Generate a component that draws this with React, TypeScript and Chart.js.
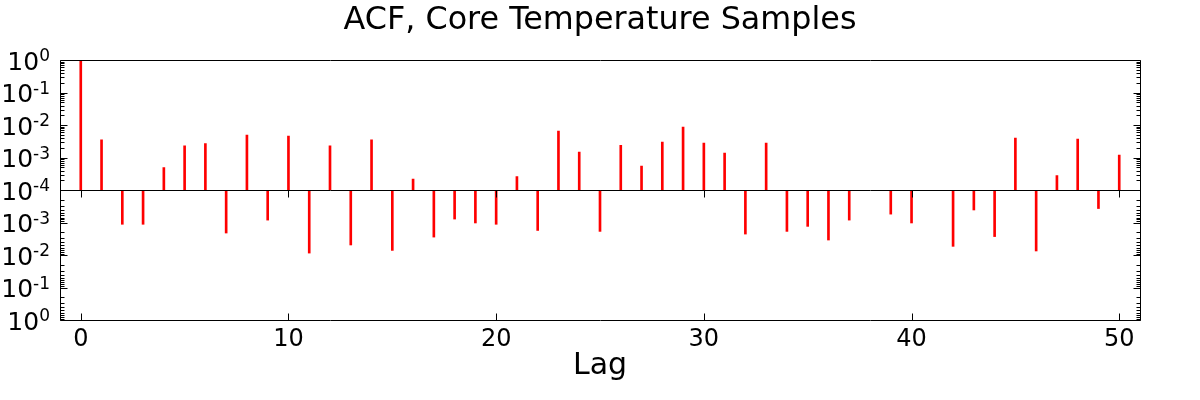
import React, { useEffect, useRef } from 'react';
import { Chart, registerables } from 'chart.js';

Chart.register(...registerables);

const TITLE = 'ACF, Core Temperature Samples';
const X_LABEL = 'Lag';

const lags = [
  0, 1, 2, 3, 4, 5, 6, 7, 8, 9,
  10, 11, 12, 13, 14, 15, 16, 17, 18, 19,
  20, 21, 22, 23, 24, 25, 26, 27, 28, 29,
  30, 31, 32, 33, 34, 35, 36, 37, 38, 39,
  40, 41, 42, 43, 44, 45, 46, 47, 48, 49,
  50,
];

const acf: (number | null)[] = [
  1, 3.5e-3, -1.13e-3, -1.13e-3, 4.9e-4, 2.3e-3, 2.7e-3, -2.1e-3, 4.9e-3, -8.4e-4,
  4.6e-3, -8.7e-3, 2.3e-3, -4.9e-3, 3.5e-3, -7.2e-3, 2.2e-4, -2.8e-3, -7.8e-4, -1.03e-3,
  -1.13e-3, 2.6e-4, -1.75e-3, 6.5e-3, 1.47e-3, -1.87e-3, 2.4e-3, 5.5e-4, 3.0e-3, 8.7e-3,
  2.8e-3, 1.37e-3, -2.26e-3, 2.8e-3, -1.87e-3, -1.31e-3, -3.45e-3, -8.4e-4, null, -5.5e-4,
  -1.03e-3, null, -5.4e-3, -4.1e-4, -2.7e-3, 4.0e-3, -7.5e-3, 2.8e-4, 3.7e-3, -3.7e-4,
  1.2e-3,
];

// y tick decades (top half: positive values, bottom half: magnitude of negative values)
const yTickValues = [1, 1e-1, 1e-2, 1e-3, 1e-4];
const yTickBase = '10';
const yPosTickExponents = ['0', '-1', '-2', '-3', '-4'];
const yNegTickExponents = ['0', '-1', '-2', '-3', ''];
const yMinorMultipliers = [2, 3, 4, 5, 6, 7, 8, 9];
const xTickValues = [0, 10, 20, 30, 40, 50];
const xTickLabels = ['0', '10', '20', '30', '40', '50'];

const FONT = 'DejaVu Sans';

const framePlugin = {
  id: 'acfFrame',
  afterDatasetsDraw(chart: any) {
    const { ctx, chartArea } = chart;
    const { left, right, top, bottom } = chartArea;
    const xs = chart.scales.x;
    const yp = chart.scales.yPos;
    const yn = chart.scales.yNeg;
    const a = (v: number) => Math.round(v) + 0.5;
    const mid = yp.bottom;
    ctx.save();
    ctx.strokeStyle = '#000';
    ctx.lineWidth = 1;
    ctx.beginPath();
    // frame
    ctx.moveTo(a(left), a(top));
    ctx.lineTo(a(right), a(top));
    ctx.lineTo(a(right), a(bottom));
    ctx.lineTo(a(left), a(bottom));
    ctx.closePath();
    // shared middle spine
    ctx.moveTo(a(left), a(mid));
    ctx.lineTo(a(right), a(mid));
    // y ticks (inside, both sides)
    const yTick = (py: number, len: number) => {
      ctx.moveTo(a(left), a(py));
      ctx.lineTo(a(left) + len, a(py));
      ctx.moveTo(a(right), a(py));
      ctx.lineTo(a(right) - len, a(py));
    };
    for (const scale of [yp, yn]) {
      for (const v of yTickValues) {
        yTick(scale.getPixelForValue(v), 7);
        if (v < 1) {
          for (const k of yMinorMultipliers) {
            yTick(scale.getPixelForValue(k * v), 4);
          }
        }
      }
    }
    // x ticks: bottom (pointing up) and middle (pointing down)
    for (const v of xTickValues) {
      const px = a(xs.getPixelForValue(v));
      ctx.moveTo(px, a(bottom));
      ctx.lineTo(px, a(bottom) - 7);
      ctx.moveTo(px, a(mid));
      ctx.lineTo(px, a(mid) + 7);
    }
    ctx.stroke();

    // y tick labels: "10" with raised exponent
    const mainFont = `25px "${FONT}"`;
    const supFont = `17px "${FONT}"`;
    const labelRight = left - 10;
    ctx.fillStyle = '#000';
    ctx.textBaseline = 'alphabetic';
    ctx.textAlign = 'left';
    const drawLabel = (py: number, exp: string) => {
      if (!exp) return;
      ctx.font = mainFont;
      const wMain = ctx.measureText(yTickBase).width;
      ctx.font = supFont;
      const wSup = ctx.measureText(exp).width;
      const x0 = labelRight - wMain - wSup;
      const baseline = py + 9.5;
      ctx.font = mainFont;
      ctx.fillText(yTickBase, x0, baseline);
      ctx.font = supFont;
      ctx.fillText(exp, x0 + wMain, baseline - 8.5);
    };
    yTickValues.forEach((v, i) => {
      drawLabel(yp.getPixelForValue(v), yPosTickExponents[i]);
      drawLabel(yn.getPixelForValue(v), yNegTickExponents[i]);
    });
    ctx.restore();
  },
};

export default function App() {
  const ref = useRef<HTMLCanvasElement>(null);

  useEffect(() => {
    document.body.style.margin = '0';
    const posPoints = lags.map((lag, i) => {
      const v = acf[i];
      return { x: lag, y: v !== null && v > 0 ? v : null };
    });
    const negPoints = lags.map((lag, i) => {
      const v = acf[i];
      return { x: lag, y: v !== null && v < 0 ? -v : null };
    });

    const yCommon = () => ({
      type: 'logarithmic' as const,
      position: 'left' as const,
      stack: 'acf',
      stackWeight: 1,
      min: 1e-4,
      max: 1,
      grid: { display: false, drawTicks: false },
      border: { display: false },
      ticks: { display: false, autoSkip: false },
      afterBuildTicks: (scale: any) => {
        scale.ticks = yTickValues.map((v) => ({ value: v }));
      },
      afterFit: (scale: any) => {
        scale.width = 60;
      },
    });

    const chart = new Chart(ref.current as HTMLCanvasElement, {
      type: 'bar',
      data: {
        datasets: [
          {
            data: posPoints as any,
            xAxisID: 'x',
            yAxisID: 'yPos',
            backgroundColor: '#ff0000',
            borderWidth: 0,
            barThickness: 2,
            grouped: false,
          },
          {
            data: negPoints as any,
            xAxisID: 'x',
            yAxisID: 'yNeg',
            backgroundColor: '#ff0000',
            borderWidth: 0,
            barThickness: 2,
            grouped: false,
          },
        ],
      },
      options: {
        animation: false,
        responsive: false,
        layout: { padding: { left: 0, right: 60, top: 0, bottom: 0 } },
        plugins: {
          legend: { display: false },
          tooltip: { enabled: false },
          title: {
            display: true,
            fullSize: false,
            text: TITLE,
            color: '#000',
            font: { family: FONT, size: 31.8, weight: 'normal' },
            padding: { top: 1.2, bottom: 20.8 },
          },
        },
        scales: {
          x: {
            type: 'linear',
            min: -1,
            max: 51,
            offset: false,
            grid: { display: false, drawTicks: false },
            border: { display: false },
            ticks: {
              color: '#000',
              font: { family: FONT, size: 24 },
              padding: 5,
              autoSkip: false,
              maxRotation: 0,
              callback: (value: any) => {
                const i = xTickValues.indexOf(Number(value));
                return i >= 0 ? xTickLabels[i] : '';
              },
            },
            afterBuildTicks: (scale: any) => {
              scale.ticks = xTickValues.map((v) => ({ value: v }));
            },
            afterFit: (scale: any) => {
              scale.height = 80;
            },
            title: {
              display: true,
              text: X_LABEL,
              color: '#000',
              font: { family: FONT, size: 30 },
              padding: { top: 0, bottom: 16 },
            },
          },
          yPos: { ...yCommon(), weight: 2 },
          yNeg: { ...yCommon(), reverse: true, weight: 1 },
        } as any,
      },
      plugins: [framePlugin],
    });

    return () => chart.destroy();
  }, []);

  return <canvas ref={ref} width={1200} height={400} style={{ display: 'block' }} />;
}
